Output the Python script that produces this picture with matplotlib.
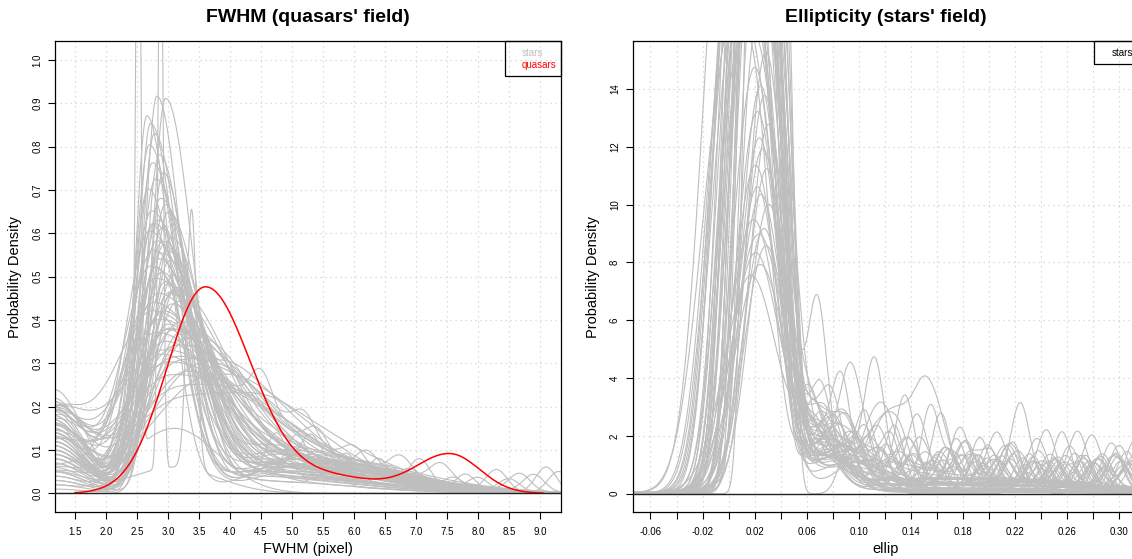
import math
import numpy as np
import matplotlib
matplotlib.use("Agg")
import matplotlib.pyplot as plt
from matplotlib.patches import Rectangle

plt.rcParams['font.family'] = ['Liberation Sans', 'DejaVu Sans']

# ---------------- FWHM panel (quasars' field) ----------------
# stars: main peak (x, height, left width), density at the left edge, broad tail (height, centre)
fwhm_peak_x = [2.82, 2.96, 2.66, 2.72, 2.78, 2.70, 2.86, 2.75, 2.92, 2.80,
               2.68, 2.88, 2.95, 2.74, 3.00, 2.84, 2.78, 2.90, 2.70, 3.05,
               2.82, 2.93, 2.76, 2.98, 2.86, 3.02, 2.72, 2.90, 3.08, 2.80,
               2.95, 3.10, 2.85, 3.00, 2.78, 3.05, 2.92, 3.12, 2.88, 3.00,
               3.15, 2.82, 3.05, 2.95, 3.20, 3.10, 2.90, 3.25, 3.00, 3.15,
               3.30, 3.05, 3.40, 3.60, 3.20, 3.30, 2.74, 2.88, 2.98, 3.08,
               2.84, 3.02, 3.18, 2.94, 2.80, 3.12, 2.92, 2.76, 2.96, 3.10]
fwhm_peak_h = [0.915, 0.905, 0.87, 0.85, 0.83, 0.80, 0.78, 0.76, 0.74, 0.72,
               0.70, 0.68, 0.66, 0.65, 0.64, 0.63, 0.62, 0.61, 0.60, 0.59,
               0.58, 0.57, 0.56, 0.55, 0.54, 0.53, 0.52, 0.51, 0.50, 0.49,
               0.48, 0.47, 0.46, 0.45, 0.44, 0.43, 0.42, 0.41, 0.40, 0.39,
               0.38, 0.37, 0.36, 0.35, 0.34, 0.33, 0.32, 0.31, 0.30, 0.29,
               0.28, 0.27, 0.26, 0.25, 0.24, 0.22, 0.62, 0.55, 0.48, 0.44,
               0.41, 0.38, 0.35, 0.33, 0.52, 0.46, 0.58, 0.42, 0.37, 0.31]
fwhm_peak_w = [0.20, 0.22, 0.19, 0.21, 0.22, 0.24, 0.23, 0.26, 0.22, 0.27,
               0.25, 0.30, 0.26, 0.33, 0.28, 0.31, 0.36, 0.27, 0.38, 0.30,
               0.34, 0.29, 0.42, 0.33, 0.37, 0.31, 0.45, 0.35, 0.33, 0.48,
               0.36, 0.40, 0.52, 0.38, 0.55, 0.42, 0.47, 0.40, 0.58, 0.45,
               0.50, 0.62, 0.48, 0.56, 0.52, 0.66, 0.60, 0.55, 0.72, 0.64,
               0.70, 0.78, 0.75, 0.90, 0.85, 0.95, 0.24, 0.40, 0.30, 0.44,
               0.36, 0.58, 0.46, 0.80, 0.28, 0.34, 0.40, 0.65, 0.42, 0.76]
fwhm_edge = [0.02, 0.05, 0.10, 0.14, 0.03, 0.18, 0.08, 0.12, 0.00, 0.16,
             0.20, 0.06, 0.11, 0.15, 0.04, 0.19, 0.09, 0.13, 0.22, 0.07,
             0.17, 0.01, 0.14, 0.10, 0.18, 0.05, 0.21, 0.12, 0.08, 0.16,
             0.03, 0.11, 0.19, 0.14, 0.06, 0.17, 0.09, 0.13, 0.20, 0.15,
             0.07, 0.18, 0.12, 0.16, 0.10, 0.19, 0.14, 0.08, 0.17, 0.21,
             0.13, 0.11, 0.16, 0.15, 0.19, 0.18, 0.24, 0.02, 0.12, 0.09,
             0.15, 0.06, 0.13, 0.17, 0.10, 0.14, 0.04, 0.18, 0.11, 0.16]
fwhm_tail_h = [0.04, 0.03, 0.06, 0.05, 0.08, 0.04, 0.07, 0.05, 0.09, 0.03,
               0.06, 0.08, 0.05, 0.10, 0.04, 0.07, 0.06, 0.09, 0.05, 0.08,
               0.04, 0.11, 0.06, 0.07, 0.05, 0.09, 0.03, 0.08, 0.06, 0.10,
               0.05, 0.07, 0.04, 0.09, 0.06, 0.08, 0.05, 0.10, 0.07, 0.06,
               0.09, 0.04, 0.08, 0.07, 0.11, 0.06, 0.05, 0.09, 0.08, 0.10,
               0.07, 0.06, 0.08, 0.04, 0.06, 0.08, 0.05, 0.07, 0.06, 0.09,
               0.04, 0.08, 0.10, 0.05, 0.07, 0.06, 0.08, 0.05, 0.09, 0.07]
fwhm_tail_x = [4.6, 4.2, 4.9, 4.4, 5.1, 4.3, 4.8, 4.5, 5.2, 4.1,
               4.7, 5.0, 4.4, 4.9, 4.2, 5.3, 4.6, 4.8, 4.3, 5.0,
               4.5, 4.7, 5.1, 4.4, 4.9, 4.6, 4.2, 5.2, 4.8, 4.5,
               4.3, 5.0, 4.7, 4.4, 5.1, 4.6, 4.9, 4.2, 4.8, 5.3,
               4.5, 4.7, 4.3, 5.0, 4.6, 4.4, 4.9, 4.1, 4.8, 4.5,
               5.2, 4.7, 4.3, 4.4, 4.6, 4.9, 5.0, 4.5, 4.8, 4.2,
               4.7, 5.1, 4.4, 4.9, 4.6, 4.3, 5.0, 4.8, 4.5, 4.7]
# small bumps in the right-hand tail
fwhm_bump_x = [4.75, 5.08, 5.30, 5.60, 5.88, 6.20, 6.40, 6.75, 7.06, 7.40,
               7.80, 8.00, 8.30, 8.67, 9.10, 9.30, 4.50, 5.40, 6.00, 6.90,
               7.60, 8.50, 8.90, 5.20, 6.55]
fwhm_bump_h = [0.10, 0.09, 0.07, 0.06, 0.06, 0.04, 0.06, 0.04, 0.06, 0.04,
               0.04, 0.03, 0.05, 0.04, 0.06, 0.05, 0.08, 0.05, 0.04, 0.035,
               0.03, 0.03, 0.04, 0.05, 0.03]
# two fields with very narrow spikes
fwhm_spike_x = [2.52, 2.88, 3.38]
fwhm_spike_h = [1.60, 1.40, 0.60]
fwhm_spike_field = [0, 1, 1]
fwhm_spike_base = [0.15, 0.06]

# quasars: the red curve as components (centre, height, left/right width)
qso_x = [3.60, 5.60, 7.55]
qso_h = [0.475, 0.038, 0.090]
qso_sl = [0.62, 0.80, 0.55]
qso_sr = [0.74, 0.80, 0.48]

fwhm_ticks = [1.5, 2.0, 2.5, 3.0, 3.5, 4.0, 4.5, 5.0, 5.5, 6.0, 6.5, 7.0, 7.5, 8.0, 8.5, 9.0]
fwhm_yticks = [0.0, 0.1, 0.2, 0.3, 0.4, 0.5, 0.6, 0.7, 0.8, 0.9, 1.0]

# ---------------- Ellipticity panel (stars' field) ----------------
ell_peak = [7.4, 7.8, 8.1, 8.4, 8.7, 9.0, 9.4, 9.7, 10.1, 10.5,
            10.9, 11.3, 11.7, 12.1, 12.5, 13.0, 13.5, 14.0, 14.5, 15.1,
            16, 17, 18, 19, 20, 21, 22, 23, 24, 25,
            26, 27, 28, 16.5, 17.5, 18.5, 19.5, 20.5, 21.5, 22.5,
            23.5, 24.5, 25.5, 17, 19, 21, 23, 18, 20, 22,
            16, 24, 26, 19, 21, 18, 22]
ell_lo = [0.006, 0.012, 0.009, 0.017, 0.011, 0.015, 0.007, 0.019, 0.013, 0.010,
          0.017, 0.008, 0.014, 0.011, 0.018, 0.009, 0.015, 0.012, 0.006, 0.016,
          -0.010, -0.004, 0.000, -0.015, -0.006, 0.004, -0.002, -0.012, 0.006, -0.008,
          0.002, -0.018, -0.004, 0.008, -0.014, -0.001, 0.003, -0.009, -0.005, 0.001,
          -0.011, 0.005, -0.003, -0.020, -0.007, 0.000, -0.013, 0.007, -0.016, -0.002,
          -0.006, 0.003, -0.010, 0.004, -0.004, -0.008, 0.010]
ell_hi = [0.028, 0.036, 0.032, 0.040, 0.034, 0.039, 0.031, 0.042, 0.036, 0.034,
          0.041, 0.033, 0.038, 0.036, 0.042, 0.035, 0.040, 0.037, 0.034, 0.041,
          0.040, 0.044, 0.036, 0.038, 0.047, 0.042, 0.034, 0.046, 0.040, 0.043,
          0.048, 0.037, 0.041, 0.045, 0.039, 0.035, 0.049, 0.042, 0.038, 0.046,
          0.044, 0.041, 0.037, 0.036, 0.043, 0.047, 0.040, 0.050, 0.038, 0.044,
          0.032, 0.042, 0.039, 0.045, 0.041, 0.048, 0.050]
ell_soft = [0.019, 0.018, 0.017, 0.015, 0.018, 0.014, 0.017, 0.013, 0.015, 0.014,
            0.013, 0.015, 0.014, 0.013, 0.012, 0.014, 0.012, 0.013, 0.014, 0.012,
            0.010, 0.008, 0.012, 0.014, 0.007, 0.009, 0.011, 0.013, 0.006, 0.010,
            0.008, 0.015, 0.009, 0.007, 0.012, 0.010, 0.006, 0.011, 0.013, 0.008,
            0.012, 0.007, 0.009, 0.016, 0.010, 0.007, 0.013, 0.006, 0.014, 0.009,
            0.011, 0.008, 0.012, 0.007, 0.010, 0.009, 0.004]
# shoulder just right of the main peak
ell_tail_h = [1.5, 1.0, 2.1, 1.2, 2.4, 0.8, 1.8, 1.4, 2.2, 1.1,
              1.7, 0.9, 1.9, 1.3, 2.6, 1.0, 1.5, 2.1, 0.7, 1.8,
              1.2, 2.1, 0.9, 1.7, 2.3, 1.2, 1.4, 0.8, 1.9, 1.5,
              1.0, 2.2, 1.3, 1.8, 2.6, 1.7, 2.5, 1.2, 1.4, 2.1,
              0.7, 1.5, 1.9, 1.0, 1.3, 2.1, 0.8, 1.7, 1.4, 1.2,
              1.8, 0.9, 1.5, 1.3, 2.0, 1.0, 0.0]
ell_tail_x = [0.070, 0.080, 0.066, 0.085, 0.072, 0.090, 0.075, 0.068, 0.082, 0.088,
              0.065, 0.078, 0.071, 0.095, 0.069, 0.076, 0.084, 0.066, 0.098, 0.079,
              0.073, 0.067, 0.087, 0.074, 0.065, 0.081, 0.092, 0.070, 0.077, 0.068,
              0.083, 0.066, 0.074, 0.080, 0.130, 0.071, 0.067, 0.086, 0.078, 0.065,
              0.105, 0.075, 0.072, 0.084, 0.081, 0.069, 0.094, 0.077, 0.072, 0.089,
              0.066, 0.110, 0.074, 0.080, 0.068, 0.086, 0.075]
ell_tail_w = [0.018, 0.024, 0.015, 0.028, 0.020, 0.030, 0.021, 0.016, 0.024, 0.027,
              0.015, 0.022, 0.018, 0.032, 0.018, 0.021, 0.026, 0.015, 0.035, 0.022,
              0.019, 0.016, 0.027, 0.021, 0.015, 0.024, 0.029, 0.018, 0.022, 0.016,
              0.026, 0.015, 0.021, 0.024, 0.025, 0.019, 0.016, 0.027, 0.022, 0.015,
              0.037, 0.021, 0.019, 0.026, 0.024, 0.017, 0.032, 0.022, 0.019, 0.029,
              0.015, 0.038, 0.021, 0.024, 0.016, 0.027, 0.021]
# low long tail out to the right edge
ell_far_h = [0.35, 0.15, 0.55, 0.05, 0.40, 0.20, 0.10, 0.50, 0.30, 0.15,
             0.55, 0.10, 0.35, 0.25, 0.05, 0.45, 0.30, 0.15, 0.50, 0.10,
             0.35, 0.20, 0.60, 0.05, 0.30, 0.40, 0.15, 0.50, 0.10, 0.35,
             0.20, 0.55, 0.05, 0.30, 0.45, 0.15, 0.10, 0.50, 0.35, 0.20,
             0.55, 0.05, 0.30, 0.40, 0.15, 0.10, 0.35, 0.50, 0.20, 0.30,
             0.15, 0.45, 0.05, 0.55, 0.10, 0.35, 0.0]
ell_bump_x = [0.062, 0.071, 0.079, 0.086, 0.093, 0.099, 0.105, 0.112, 0.118, 0.124,
              0.131, 0.137, 0.143, 0.150, 0.155, 0.163, 0.169, 0.175, 0.182, 0.188,
              0.193, 0.199, 0.206, 0.212, 0.218, 0.224, 0.231, 0.237, 0.244, 0.250,
              0.256, 0.262, 0.268, 0.274, 0.279, 0.286, 0.294, 0.300, 0.306, 0.312,
              0.066, 0.076, 0.083, 0.089, 0.097, 0.103, 0.109, 0.116, 0.121, 0.128,
              0.134, 0.140, 0.147, 0.153, 0.159, 0.166, 0.172, 0.179, 0.185, 0.191,
              0.197, 0.203, 0.209, 0.215, 0.221, 0.228, 0.234, 0.240, 0.247, 0.253,
              0.259, 0.265, 0.271, 0.277, 0.283, 0.290, 0.297, 0.303, 0.309, 0.315,
              0.070, 0.081, 0.091, 0.101, 0.114, 0.126, 0.139, 0.152, 0.167, 0.180,
              0.195, 0.210, 0.226, 0.241, 0.258, 0.273, 0.288, 0.301, 0.311, 0.233,
              0.074, 0.087, 0.107, 0.132, 0.158, 0.186, 0.214, 0.246, 0.281, 0.298,
              0.068, 0.095, 0.122, 0.145, 0.176, 0.201, 0.229, 0.263, 0.292, 0.307,
              0.064, 0.078, 0.092, 0.106, 0.119, 0.133, 0.148, 0.161, 0.174, 0.189,
              0.204, 0.219, 0.236, 0.251, 0.266, 0.280, 0.295, 0.309, 0.117, 0.142,
              0.072, 0.084, 0.098, 0.111, 0.125, 0.138, 0.151, 0.165, 0.178, 0.192,
              0.207, 0.222, 0.238, 0.254, 0.269, 0.284, 0.299, 0.313, 0.160, 0.245,
              0.080, 0.094, 0.110, 0.127, 0.144, 0.162, 0.181, 0.199, 0.217, 0.235,
              0.253, 0.270, 0.287, 0.304, 0.088, 0.104, 0.136, 0.171, 0.213, 0.276]
ell_bump_h = [1.6, 2.0, 1.4, 1.8, 2.7, 1.3, 1.7, 3.6, 1.5, 1.9,
              1.3, 1.8, 1.6, 1.4, 3.0, 2.6, 1.2, 1.7, 1.5, 1.3,
              1.8, 1.4, 1.6, 1.2, 1.7, 2.8, 1.3, 1.5, 1.9, 1.2,
              2.0, 1.4, 1.8, 1.3, 1.7, 1.2, 1.6, 1.4, 1.3, 1.8,
              1.0, 0.8, 1.3, 1.1, 0.9, 1.2, 0.7, 1.0, 1.4, 0.8,
              1.1, 0.9, 1.3, 0.7, 1.0, 1.2, 0.8, 1.1, 0.9, 1.3,
              0.8, 1.1, 0.9, 1.4, 0.7, 1.0, 1.2, 0.8, 1.1, 0.9,
              1.0, 0.7, 1.2, 0.9, 1.1, 0.8, 1.3, 0.9, 1.0, 1.2,
              0.9, 1.2, 0.8, 1.0, 1.3, 0.7, 1.1, 0.9, 1.2, 0.8,
              1.0, 0.8, 1.1, 0.9, 0.7, 1.0, 0.8, 1.1, 0.9, 1.0,
              0.8, 1.0, 0.9, 0.7, 1.1, 0.8, 1.0, 0.9, 0.8, 1.1,
              5.0, 0.9, 1.0, 0.8, 0.9, 1.0, 0.7, 0.9, 0.8, 1.0,
              1.3, 1.0, 1.6, 0.9, 1.2, 1.4, 0.8, 1.1, 1.3, 0.9,
              1.0, 1.2, 0.8, 1.1, 1.3, 0.9, 1.0, 0.8, 1.5, 1.0,
              1.1, 1.4, 0.9, 1.2, 1.0, 1.3, 0.9, 1.1, 0.8, 1.2,
              0.9, 1.0, 1.2, 0.8, 1.1, 0.9, 1.2, 1.0, 1.3, 0.9,
              1.2, 0.9, 1.1, 1.3, 0.8, 1.0, 1.2, 0.9, 1.1, 0.8,
              1.0, 0.9, 1.1, 0.8, 1.3, 1.0, 1.2, 0.9, 1.0, 0.8]

ell_ticks = [-0.06, -0.04, -0.02, 0.0, 0.02, 0.04, 0.06, 0.08, 0.10, 0.12,
             0.14, 0.16, 0.18, 0.20, 0.22, 0.24, 0.26, 0.28, 0.30]
ell_ticklabels = ["-0.06", "", "-0.02", "", "0.02", "", "0.06", "", "0.10", "",
                  "0.14", "", "0.18", "", "0.22", "", "0.26", "", "0.30"]
ell_yticks = [0, 2, 4, 6, 8, 10, 12, 14]

GREY = "#BEBEBE"
W, H = 1132, 559

erf = np.vectorize(math.erf)


def gauss(x, c, h, s):
    return h * np.exp(-0.5 * ((x - c) / s) ** 2)


def skew_gauss(x, c, h, sl, sr):
    s = np.where(x < c, sl, sr)
    return h * np.exp(-0.5 * ((x - c) / s) ** 2)


def soft_box(x, a, b, s, peak):
    top = peak / math.erf((b - a) / (2 * math.sqrt(2) * s))
    return 0.5 * top * (erf((x - a) / (math.sqrt(2) * s)) - erf((x - b) / (math.sqrt(2) * s)))


def style_axes(ax):
    for sp in ax.spines.values():
        sp.set_linewidth(0.9)
        sp.set_color("black")
    ax.tick_params(direction="out", length=5, width=0.8, labelsize=7, colors="black")
    ax.tick_params(axis="x", pad=6)
    ax.tick_params(axis="y", pad=4)
    for lab in ax.get_yticklabels():
        lab.set_rotation(90)
        lab.set_va("center")
    ax.axhline(0, color="#222222", lw=1.0, zorder=5)


fig = plt.figure(figsize=(W / 100, H / 100), dpi=100)

# ---------- left ----------
ax1 = fig.add_axes([55 / W, (H - 512) / H, 506 / W, 471 / H])
ax1.set_xlim(1.177, 9.34)
ax1.set_ylim(-0.043, 1.044)
for v in fwhm_ticks:
    ax1.axvline(v, color="#D3D3D3", lw=0.9, ls=(0, (1, 3)), zorder=0)
for v in fwhm_yticks:
    ax1.axhline(v, color="#D3D3D3", lw=0.9, ls=(0, (1, 3)), zorder=0)

x1 = np.linspace(1.0, 9.6, 1400)
n1 = len(fwhm_peak_x)
for i in range(n1):
    sl = fwhm_peak_w[i]
    y = skew_gauss(x1, fwhm_peak_x[i], fwhm_peak_h[i], sl, 1.5 * sl + 0.1)
    y += gauss(x1, 1.15, fwhm_edge[i], 0.5)
    y += skew_gauss(x1, fwhm_tail_x[i], fwhm_tail_h[i], 0.7, 1.6)
    for k in range(len(fwhm_bump_x)):
        if (k * 3) % n1 == i:
            y += gauss(x1, fwhm_bump_x[k], fwhm_bump_h[k], 0.17)
    ax1.plot(x1, y, color=GREY, lw=0.8, zorder=2)

for f in range(len(fwhm_spike_base)):
    y = gauss(x1, 3.1, fwhm_spike_base[f], 0.7) + gauss(x1, 1.15, 0.05, 0.5)
    for k in range(len(fwhm_spike_x)):
        if fwhm_spike_field[k] == f:
            w = 0.04 if fwhm_spike_h[k] > 1 else 0.08
            y += gauss(x1, fwhm_spike_x[k], fwhm_spike_h[k], w)
    ax1.plot(x1, y, color=GREY, lw=0.8, zorder=2)

xq = np.linspace(1.5, 9.05, 800)
yq = np.zeros_like(xq)
for c, h, sl, sr in zip(qso_x, qso_h, qso_sl, qso_sr):
    yq += skew_gauss(xq, c, h, sl, sr)
ax1.plot(xq, yq, color="red", lw=1.1, zorder=4)

ax1.set_xticks(fwhm_ticks)
ax1.set_xticklabels([f"{v:.1f}" for v in fwhm_ticks])
ax1.set_yticks(fwhm_yticks)
ax1.set_yticklabels([f"{v:.1f}" for v in fwhm_yticks])
style_axes(ax1)
ax1.text(0.5, 1 + 23 / 471, "FWHM (quasars' field)", transform=ax1.transAxes,
         ha="center", va="center", fontsize=14, fontweight="bold")
ax1.text(0.5, -37 / 471, "FWHM (pixel)", transform=ax1.transAxes,
         ha="center", va="center", fontsize=10.5)
ax1.text(-40 / 506, 0.5, "Probability Density", transform=ax1.transAxes,
         ha="center", va="center", rotation=90, fontsize=10.5)

# legend box
fig.patches.append(Rectangle((505 / W, (H - 76) / H), 56 / W, 35 / H, transform=fig.transFigure,
                             fill=False, edgecolor="black", lw=0.9, zorder=10))
fig.text(522 / W, (H - 53) / H, "stars", color=GREY, fontsize=7, va="center")
fig.text(522 / W, (H - 65) / H, "quasars", color="red", fontsize=7, va="center")

# ---------- right ----------
ax2 = fig.add_axes([632.5 / W, (H - 512) / H, 506 / W, 471 / H])
ax2.set_xlim(-0.0738, 0.3148)
ax2.set_ylim(-0.63, 15.66)
for v in ell_ticks:
    ax2.axvline(v, color="#D3D3D3", lw=0.9, ls=(0, (1, 3)), zorder=0)
for v in ell_yticks:
    ax2.axhline(v, color="#D3D3D3", lw=0.9, ls=(0, (1, 3)), zorder=0)

x2 = np.linspace(-0.08, 0.33, 1800)
n2 = len(ell_peak)
for i in range(n2):
    y = soft_box(x2, ell_lo[i], ell_hi[i], ell_soft[i], ell_peak[i])
    y += gauss(x2, ell_tail_x[i], ell_tail_h[i], ell_tail_w[i])
    y += gauss(x2, 0.17, ell_far_h[i], 0.11)
    for k in range(len(ell_bump_x)):
        if (k * 7) % n2 == i:
            y += gauss(x2, ell_bump_x[k], ell_bump_h[k], 0.0072)
    ax2.plot(x2, y, color=GREY, lw=0.8, zorder=2)

ax2.set_xticks(ell_ticks)
ax2.set_xticklabels(ell_ticklabels)
ax2.set_yticks(ell_yticks)
ax2.set_yticklabels([str(v) for v in ell_yticks])
style_axes(ax2)
ax2.text(0.5, 1 + 23 / 471, "Ellipticity (stars' field)", transform=ax2.transAxes,
         ha="center", va="center", fontsize=14, fontweight="bold")
ax2.text(0.5, -37 / 471, "ellip", transform=ax2.transAxes,
         ha="center", va="center", fontsize=10.5)
ax2.text(-40 / 506, 0.5, "Probability Density", transform=ax2.transAxes,
         ha="center", va="center", rotation=90, fontsize=10.5)

fig.patches.append(Rectangle((1094 / W, (H - 64) / H), 60 / W, 23 / H, transform=fig.transFigure,
                             fill=False, edgecolor="black", lw=0.9, zorder=10))
fig.text(1112 / W, (H - 53) / H, "stars", color="black", fontsize=7, va="center")

fig.savefig("out.png", dpi=100)
